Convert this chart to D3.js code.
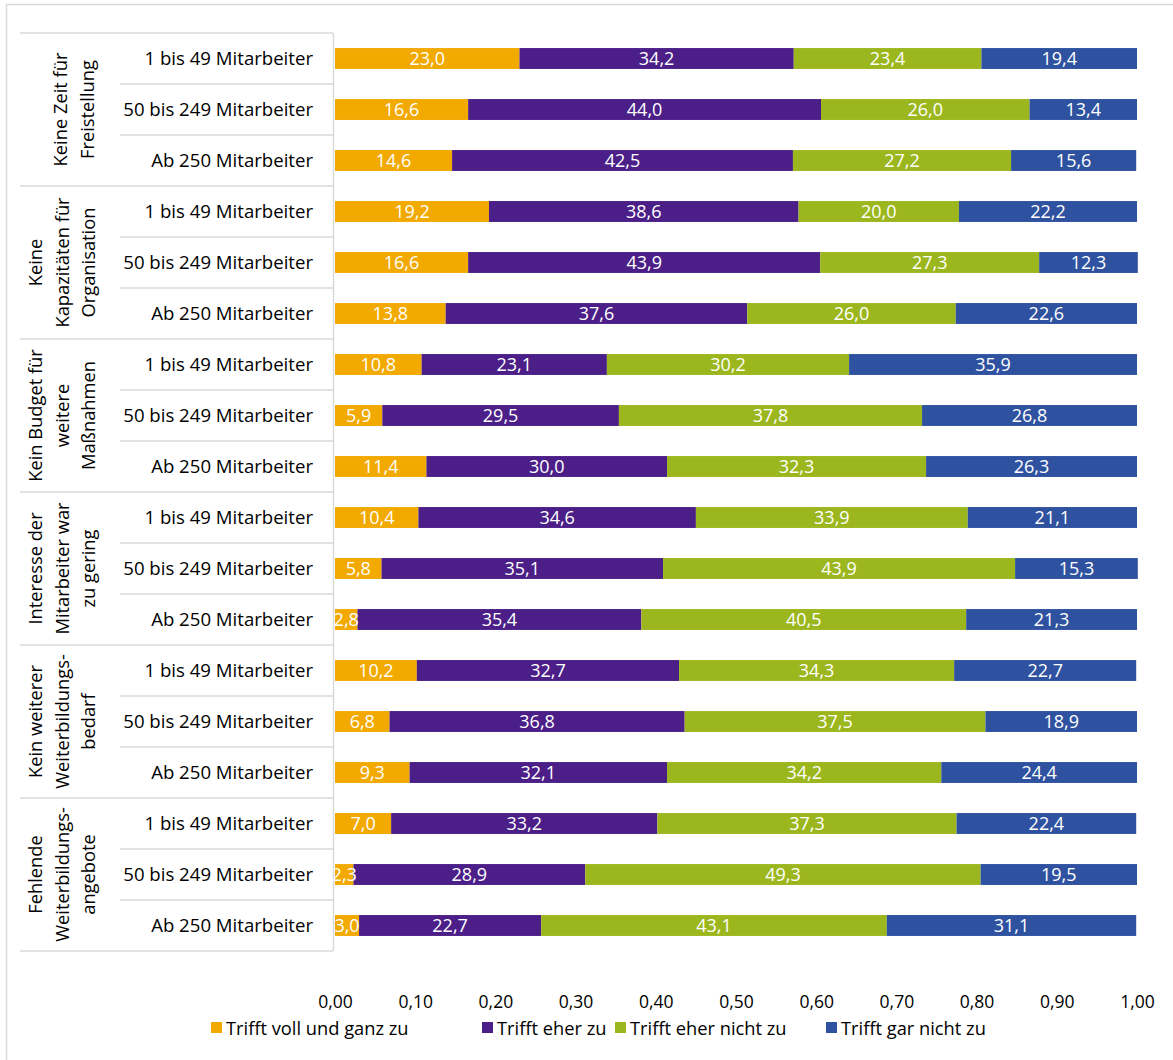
<!DOCTYPE html>
<html>
<head>
<meta charset="utf-8">
<script src="https://cdn.jsdelivr.net/npm/d3@7"></script>
<style>
  body { margin: 0; background: #fff; }
  svg text { font-family: "Open Sans", sans-serif; }
</style>
</head>
<body>
<div id="chart"></div>
<script>
const groups = [
  ["Keine Zeit für", "Freistellung"],
  ["Keine", "Kapazitäten für", "Organisation"],
  ["Kein Budget für", "weitere", "Maßnahmen"],
  ["Interesse der", "Mitarbeiter war", "zu gering"],
  ["Kein weiterer", "Weiterbildungs-", "bedarf"],
  ["Fehlende", "Weiterbildungs-", "angebote"]
];
const sizes = ["1 bis 49 Mitarbeiter", "50 bis 249 Mitarbeiter", "Ab 250 Mitarbeiter"];
const seriesNames = ["Trifft voll und ganz zu", "Trifft eher zu", "Trifft eher nicht zu", "Trifft gar nicht zu"];
const colors = ["#f2a900", "#4b1f87", "#9cb71e", "#2f52a0"];
const tickValues = [0, 0.1, 0.2, 0.3, 0.4, 0.5, 0.6, 0.7, 0.8, 0.9, 1.0];

// one row per group x size, values in percent
const values = [
  [23.0, 34.2, 23.4, 19.4], [16.6, 44.0, 26.0, 13.4], [14.6, 42.5, 27.2, 15.6],
  [19.2, 38.6, 20.0, 22.2], [16.6, 43.9, 27.3, 12.3], [13.8, 37.6, 26.0, 22.6],
  [10.8, 23.1, 30.2, 35.9], [5.9, 29.5, 37.8, 26.8], [11.4, 30.0, 32.3, 26.3],
  [10.4, 34.6, 33.9, 21.1], [5.8, 35.1, 43.9, 15.3], [2.8, 35.4, 40.5, 21.3],
  [10.2, 32.7, 34.3, 22.7], [6.8, 36.8, 37.5, 18.9], [9.3, 32.1, 34.2, 24.4],
  [7.0, 33.2, 37.3, 22.4], [2.3, 28.9, 49.3, 19.5], [3.0, 22.7, 43.1, 31.1]
];

const width = 1173, height = 1060;
const svg = d3.select("#chart").append("svg")
  .attr("width", width).attr("height", height);

// outer frame
svg.append("rect")
  .attr("x", 6.5).attr("y", 4.5)
  .attr("width", width + 20).attr("height", height + 20)
  .attr("fill", "none").attr("stroke", "#d9d9d9").attr("stroke-width", 1.5);

const topY = 33, rowH = 51;
const nRows = values.length;
const x = d3.scaleLinear().domain([0, 1]).range([335, 1137]);
const y = d3.scaleBand().domain(d3.range(nRows))
  .range([topY, topY + nRows * rowH]).paddingInner(0.59).paddingOuter(0.295);

const lineColor = "#d9d9d9";
const tbl = svg.append("g");

// table lines
for (let g = 0; g <= groups.length; g++) {
  const yy = topY + g * 3 * rowH;
  tbl.append("line").attr("x1", 20).attr("x2", 333).attr("y1", yy).attr("y2", yy)
    .attr("stroke", lineColor).attr("stroke-width", 1.5);
}
for (let r = 0; r < nRows; r++) {
  if (r % 3 === 0) continue;
  const yy = topY + r * rowH;
  tbl.append("line").attr("x1", 120).attr("x2", 333).attr("y1", yy).attr("y2", yy)
    .attr("stroke", lineColor).attr("stroke-width", 1.5);
}
tbl.append("line").attr("x1", 333.5).attr("x2", 333.5)
  .attr("y1", topY).attr("y2", topY + nRows * rowH)
  .attr("stroke", lineColor).attr("stroke-width", 1.5);

// size labels
tbl.selectAll("text.size")
  .data(d3.range(nRows))
  .join("text")
  .attr("class", "size")
  .attr("x", 313)
  .attr("y", r => y(r) + y.bandwidth() / 2 + 6.5)
  .attr("text-anchor", "end")
  .attr("font-size", 18.6)
  .attr("fill", "#000")
  .text(r => sizes[r % 3]);

// group labels, rotated
groups.forEach((lines, g) => {
  const cy = topY + (g * 3 + 1.5) * rowH;
  const cx = lines.length === 3 ? 62 : 74;
  const lh = 26.5;
  const t = tbl.append("text")
    .attr("transform", `translate(${cx},${cy}) rotate(-90)`)
    .attr("text-anchor", "middle")
    .attr("font-size", 18.3)
    .attr("fill", "#000");
  lines.forEach((ln, i) => {
    t.append("tspan")
      .attr("x", 0)
      .attr("y", (i - (lines.length - 1) / 2) * lh + 6.5)
      .text(ln);
  });
});

// stacked bars
const stacked = values.map((row, r) => {
  let acc = 0;
  return row.map((v, k) => {
    const s = { r, k, v, x0: acc / 100, x1: (acc + v) / 100 };
    acc += v;
    return s;
  });
}).flat();

const bars = svg.append("g");
bars.selectAll("rect")
  .data(stacked)
  .join("rect")
  .attr("x", d => x(d.x0))
  .attr("y", d => y(d.r))
  .attr("width", d => x(d.x1) - x(d.x0))
  .attr("height", y.bandwidth())
  .attr("fill", d => colors[d.k]);

bars.selectAll("text")
  .data(stacked)
  .join("text")
  .attr("x", d => (x(d.x0) + x(d.x1)) / 2)
  .attr("y", d => y(d.r) + y.bandwidth() / 2 + 6.5)
  .attr("text-anchor", "middle")
  .attr("font-size", 18)
  .attr("fill", "#fff")
  .text(d => d.v.toFixed(1).replace(".", ","));

// x axis
const axis = d3.axisBottom(x)
  .tickValues(tickValues)
  .tickSize(0)
  .tickFormat(d => d.toFixed(2).replace(".", ","));
const ax = svg.append("g")
  .attr("transform", `translate(0,${topY + nRows * rowH + 42})`)
  .call(axis);
ax.select(".domain").remove();
ax.selectAll("text")
  .attr("font-family", "'Open Sans', sans-serif")
  .attr("font-size", 17.5)
  .attr("fill", "#000");

// legend
const legendX = [211, 482, 615, 826];
const lg = svg.append("g");
seriesNames.forEach((name, i) => {
  lg.append("rect")
    .attr("x", legendX[i]).attr("y", 1022)
    .attr("width", 11).attr("height", 11)
    .attr("fill", colors[i]);
  lg.append("text")
    .attr("x", legendX[i] + 15).attr("y", 1034.5)
    .attr("font-size", 18.3)
    .attr("fill", "#000")
    .text(name);
});
</script>
</body>
</html>
